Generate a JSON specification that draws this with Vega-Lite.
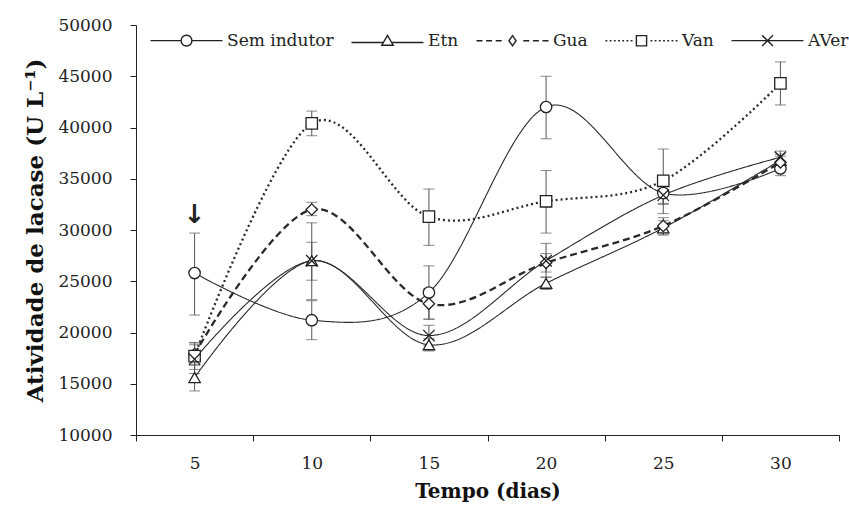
{
  "$schema": "https://vega.github.io/schema/vega-lite/v6.json",
  "width": 703,
  "height": 410,
  "autosize": {"type": "none"},
  "padding": {"left": 136, "top": 25, "right": 10, "bottom": 82},
  "background": "white",
  "config": {
    "view": {"stroke": null},
    "font": "DejaVu Serif",
    "axis": {"domainColor": "#222", "tickColor": "#222", "labelColor": "#222", "titleColor": "#111", "grid": false, "labelFont": "DejaVu Serif", "titleFont": "DejaVu Serif"}
  },
  "datasets": {
    "series": [
      {"trat": "Sem indutor", "dia": 5, "v": 25800, "lo": 21700, "hi": 29700},
      {"trat": "Sem indutor", "dia": 10, "v": 21200, "lo": 19300, "hi": 23100},
      {"trat": "Sem indutor", "dia": 15, "v": 23900, "lo": 21300, "hi": 26500},
      {"trat": "Sem indutor", "dia": 20, "v": 42000, "lo": 38900, "hi": 45000},
      {"trat": "Sem indutor", "dia": 25, "v": 33600, "lo": 32600, "hi": 34600},
      {"trat": "Sem indutor", "dia": 30, "v": 36000, "lo": 35300, "hi": 36700},
      {"trat": "Etn", "dia": 5, "v": 15600, "lo": 14300, "hi": 16900},
      {"trat": "Etn", "dia": 10, "v": 27000, "lo": 25100, "hi": 28800},
      {"trat": "Etn", "dia": 15, "v": 18800, "lo": 18200, "hi": 19400},
      {"trat": "Etn", "dia": 20, "v": 24800, "lo": 24200, "hi": 25400},
      {"trat": "Etn", "dia": 25, "v": 30200, "lo": 29500, "hi": 30900},
      {"trat": "Etn", "dia": 30, "v": 36800, "lo": 36200, "hi": 37400},
      {"trat": "Gua", "dia": 5, "v": 17900, "lo": 16800, "hi": 19000},
      {"trat": "Gua", "dia": 10, "v": 32000, "lo": 31400, "hi": 32700},
      {"trat": "Gua", "dia": 15, "v": 22800, "lo": 21300, "hi": 24300},
      {"trat": "Gua", "dia": 20, "v": 26800, "lo": 25900, "hi": 27700},
      {"trat": "Gua", "dia": 25, "v": 30400, "lo": 29600, "hi": 31200},
      {"trat": "Gua", "dia": 30, "v": 36600, "lo": 36000, "hi": 37200},
      {"trat": "Van", "dia": 5, "v": 17700, "lo": 16400, "hi": 19000},
      {"trat": "Van", "dia": 10, "v": 40400, "lo": 39200, "hi": 41600},
      {"trat": "Van", "dia": 15, "v": 31300, "lo": 28500, "hi": 34000},
      {"trat": "Van", "dia": 20, "v": 32800, "lo": 29700, "hi": 35800},
      {"trat": "Van", "dia": 25, "v": 34800, "lo": 31600, "hi": 37900},
      {"trat": "Van", "dia": 30, "v": 44300, "lo": 42200, "hi": 46400},
      {"trat": "AVer", "dia": 5, "v": 17400, "lo": 16000, "hi": 18800},
      {"trat": "AVer", "dia": 10, "v": 27000, "lo": 23200, "hi": 30700},
      {"trat": "AVer", "dia": 15, "v": 19700, "lo": 18700, "hi": 20700},
      {"trat": "AVer", "dia": 20, "v": 27000, "lo": 25400, "hi": 28700},
      {"trat": "AVer", "dia": 25, "v": 33400, "lo": 32500, "hi": 34300},
      {"trat": "AVer", "dia": 30, "v": 37100, "lo": 36500, "hi": 37700}
    ],
    "notes": [
      {"dia": 5, "y": 31500, "t": "↓"}
    ]
  },
  "data": {"name": "series"},
  "encoding": {
    "x": {
      "field": "dia", "type": "ordinal",
      "scale": {"type": "band", "paddingInner": 0, "paddingOuter": 0},
      "axis": {"title": "Tempo (dias)", "labelAngle": 0, "tickBand": "extent", "tickSize": 6, "labelFontSize": 17, "labelPadding": 14, "titleFontSize": 20, "titleFontWeight": "bold", "titlePadding": 10, "labelFont": "DejaVu Serif", "titleFont": "DejaVu Serif"}
    }
  },
  "layer": [
    {
      "mark": {"type": "rule", "color": "#555", "strokeWidth": 1},
      "encoding": {
        "y": {"field": "lo", "type": "quantitative"},
        "y2": {"field": "hi"}
      }
    },
    {
      "mark": {"type": "tick", "color": "#555", "thickness": 1, "size": 11},
      "encoding": {"y": {"field": "lo", "type": "quantitative"}}
    },
    {
      "mark": {"type": "tick", "color": "#555", "thickness": 1, "size": 11},
      "encoding": {"y": {"field": "hi", "type": "quantitative"}}
    },
    {
      "mark": {"type": "line", "interpolate": "cardinal", "color": "#2a2a2a"},
      "encoding": {
        "y": {
          "field": "v", "type": "quantitative",
          "scale": {"domain": [10000, 50000], "nice": false, "zero": false},
          "axis": {"title": "Atividade  de lacase (U L⁻¹)", "values": [10000, 15000, 20000, 25000, 30000, 35000, 40000, 45000, 50000], "format": "d", "tickSize": 6, "labelFontSize": 17, "labelPadding": 18, "titleFontSize": 23, "titleFontWeight": "bold", "titlePadding": 10, "labelFont": "DejaVu Serif", "titleFont": "DejaVu Serif"}
        },
        "detail": {"field": "trat"},
        "strokeDash": {
          "condition": [
            {"test": "datum.trat === 'Gua'", "value": [7, 4]},
            {"test": "datum.trat === 'Van'", "value": [2, 3]}
          ],
          "value": [1, 0]
        },
        "strokeWidth": {
          "condition": {"test": "datum.trat === 'Gua' || datum.trat === 'Van'", "value": 2.3},
          "value": 1.1
        }
      }
    },
    {
      "mark": {"type": "point", "filled": true, "fill": "white", "stroke": "#222", "strokeWidth": 1.3, "opacity": 1},
      "encoding": {
        "y": {"field": "v", "type": "quantitative"},
        "shape": {
          "field": "trat", "type": "nominal", "legend": null,
          "scale": {"domain": ["Sem indutor", "Etn", "Gua", "Van", "AVer"], "range": ["circle", "triangle-up", "diamond", "square", "M-1,-1L1,1M-1,1L1,-1"]}
        },
        "size": {
          "field": "trat", "type": "nominal", "legend": null,
          "scale": {"domain": ["Sem indutor", "Etn", "Gua", "Van", "AVer"], "range": [130, 130, 70, 150, 120]}
        }
      }
    },
    {
      "data": {"name": "notes"},
      "mark": {"type": "text", "fontSize": 26, "font": "DejaVu Sans", "fontWeight": "bold", "color": "#222", "baseline": "middle"},
      "encoding": {
        "y": {"field": "y", "type": "quantitative"},
        "text": {"field": "t"}
      }
    },
    {
      "transform": [{"filter": "datum.dia < 0"}],
      "mark": {"type": "point"},
      "encoding": {
        "y": {"field": "v", "type": "quantitative"},
        "shape": {
          "field": "trat", "type": "nominal",
          "scale": {
            "domain": ["Sem indutor", "Etn", "Gua", "Van", "AVer"],
            "range": [
              "M-6,0L-0.9,0M0.9,0L6,0M-0.9,0A0.9,0.9 0 1,1 0.9,0A0.9,0.9 0 1,1 -0.9,0Z",
              "M-6,0.3L-0.7,0.3M0.7,0.3L6,0.3M0,-0.9L0.95,0.75L-0.95,0.75Z",
              "M-6,0L-5,0M-4.4,0L-3.4,0M-2.8,0L-1.8,0M1.8,0L2.8,0M3.4,0L4.4,0M5,0L6,0M0,-0.85L0.6,0L0,0.85L-0.6,0Z",
              "M-6,0L-5.7,0M-5.3,0L-5,0M-4.6,0L-4.3,0M-3.9,0L-3.6,0M-3.2,0L-2.9,0M-2.5,0L-2.2,0M-1.8,0L-1.5,0M1.5,0L1.8,0M2.2,0L2.5,0M2.9,0L3.2,0M3.6,0L3.9,0M4.3,0L4.6,0M5,0L5.3,0M5.7,0L6,0M-0.85,-0.85L0.85,-0.85L0.85,0.85L-0.85,0.85Z",
              "M-6,0L6,0M-0.9,-0.9L0.9,0.9M-0.9,0.9L0.9,-0.9"
            ]
          },
          "legend": {
            "title": null,
            "orient": "none",
            "legendX": 12,
            "legendY": 7,
            "direction": "horizontal",
            "columns": 5,
            "symbolSize": 144,
            "symbolStrokeColor": "#222",
            "symbolFillColor": "white",
            "symbolStrokeWidth": 1.4,
            "symbolOpacity": 1,
            "symbolOffset": 30,
            "labelOffset": 32,
            "labelFontSize": 17,
            "labelFont": "DejaVu Serif",
            "labelColor": "#222",
            "columnPadding": 14
          }
        }
      }
    }
  ],
  "resolve": {"scale": {"shape": "independent", "size": "independent"}}
}
